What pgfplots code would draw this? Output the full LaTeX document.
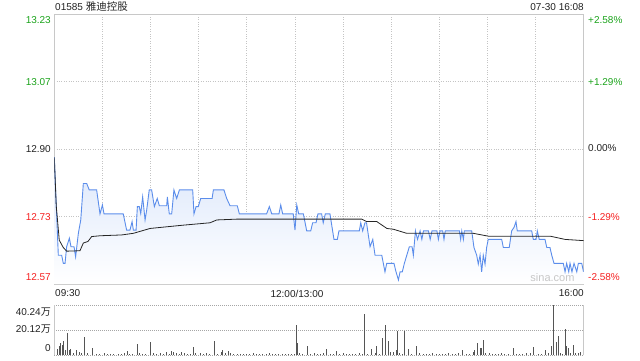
\documentclass[border=0pt]{standalone}
\usepackage{fontspec}
\setmainfont{Liberation Sans}
\newfontfamily\cjk{Noto Sans CJK SC}
\usepackage{pgfplots}
\usepackage{pgfplotstable}
\pgfplotsset{compat=1.18}
\definecolor{upg}{HTML}{1BA31B}
\definecolor{dnr}{HTML}{F52020}
\definecolor{pline}{HTML}{5B8DEB}
\definecolor{gridc}{HTML}{C4C4C4}
\definecolor{framec}{HTML}{C8C8C8}
\definecolor{volc}{HTML}{555555}
\definecolor{fillc}{HTML}{DCE7FB}
\definecolor{txt}{HTML}{222222}

\pgfplotstableread{
t p
0 12.880
2.5 12.638
4.6 12.638
5.6 12.618
6.7 12.618
7.7 12.659
9.4 12.680
10.4 12.659
12.3 12.659
13.3 12.634
15.0 12.692
16.5 12.725
18.1 12.815
20.2 12.815
21.8 12.799
26.4 12.799
28.5 12.740
30.0 12.762
31.0 12.740
43.0 12.740
45.1 12.700
47.2 12.700
48.5 12.721
49.3 12.700
51.0 12.700
51.8 12.758
53.0 12.758
53.9 12.741
55.1 12.782
56.6 12.725
57.6 12.749
59.2 12.799
60.7 12.799
62.4 12.758
64.2 12.778
65.5 12.760
70.1 12.760
70.5 12.782
71.7 12.740
73.2 12.740
74.6 12.799
76.3 12.778
78.0 12.799
86.3 12.799
87.1 12.740
88.4 12.758
89.8 12.758
91.3 12.778
98.4 12.778
99.2 12.799
105.8 12.799
107.5 12.778
109.6 12.760
114.1 12.760
115.4 12.740
132.4 12.740
134.1 12.758
135.6 12.740
140.1 12.740
141.2 12.762
142.4 12.740
149.0 12.740
150.1 12.700
151.2 12.762
152.4 12.740
155.3 12.740
157.4 12.698
159.9 12.698
161.1 12.718
163.2 12.718
164.4 12.740
166.7 12.740
167.7 12.718
169.0 12.740
171.9 12.740
174.4 12.677
176.5 12.677
177.5 12.698
190.2 12.698
191.1 12.718
192.3 12.698
193.7 12.718
194.7 12.718
196.9 12.659
198.6 12.677
200.0 12.638
204.2 12.638
206.2 12.597
207.3 12.618
211.8 12.618
213.1 12.597
214.6 12.577
215.6 12.597
217.0 12.597
218.3 12.618
221.4 12.659
223.1 12.659
223.9 12.638
225.2 12.698
226.5 12.677
228.1 12.698
229.2 12.677
230.2 12.698
233.3 12.698
234.4 12.677
235.5 12.698
238.6 12.698
239.5 12.677
240.5 12.698
242.2 12.698
243.0 12.677
243.8 12.698
252.6 12.698
253.4 12.677
254.1 12.698
255.1 12.677
255.7 12.698
260.3 12.698
261.7 12.657
263.4 12.638
264.4 12.616
265.5 12.638
266.5 12.597
267.5 12.638
268.6 12.616
269.6 12.657
270.6 12.677
279.0 12.677
280.0 12.657
283.7 12.657
285.2 12.698
286.7 12.707
287.9 12.721
288.7 12.698
297.7 12.698
298.7 12.677
300.4 12.677
301.2 12.698
302.4 12.677
306.0 12.677
307.1 12.657
309.1 12.657
310.2 12.638
311.6 12.618
317.4 12.618
318.5 12.597
319.5 12.618
320.8 12.597
321.6 12.618
322.8 12.597
324.1 12.618
325.8 12.597
326.8 12.618
328.9 12.618
330.0 12.597
}\pricedata

\pgfplotstableread{
t p
0 12.880
1.2 12.760
3.1 12.675
5.6 12.657
7.7 12.648
16.0 12.649
18.1 12.668
21.0 12.672
23.3 12.684
28.5 12.686
42.0 12.688
49.3 12.692
59.7 12.704
80.0 12.712
97.1 12.718
101.3 12.725
113.8 12.727
191.7 12.727
194.8 12.721
201.1 12.721
207.4 12.704
211.5 12.702
219.8 12.692
261.3 12.692
270.6 12.685
309.2 12.685
318.5 12.677
330.0 12.674
}\avgdata

\pgfplotstableread{
t v
1.9 4.6
2.9 7.2
4.0 9.9
4.8 8.0
5.9 11.3
6.7 4.0
8.4 18.0
9.2 4.0
10.2 4.8
11.9 1.9
14.0 4.0
15.6 2.7
17.1 1.9
18.5 14.2
20.6 1.9
23.5 5.4
26 1.2
28 0.8
31 1.6
33 0.8
35 1.2
37 0.8
40 1.2
42 0.8
44 1.6
45.8 3.2
47 1.2
49 0.8
51.8 8.9
53 2.0
55 1.2
57 0.8
60.1 10.7
62 1.6
64 0.8
65.9 1.9
68 1.2
70 2.4
72 1.2
73.2 3.2
74.2 2.4
76 2.0
78 0.8
79.4 2.4
81 1.6
83 1.2
85 0.8
86.7 6.2
88 1.6
90.9 1.9
93 1.2
95 2.0
97 0.8
99.8 11.5
102 1.2
104 2.4
105 4.0
107 1.6
108.5 3.2
110 2.0
112 1.2
114 0.8
116 1.2
118 0.8
120 1.2
122 0.8
124 1.6
126 0.8
128 1.2
130 0.8
132 1.2
134 1.6
136 0.8
138 1.2
140 0.8
142 1.2
144 0.8
146 1.2
148 0.8
150 1.2
151.2 24.2
151.8 10.0
153 1.6
155 0.8
157.8 7.2
160 1.2
162 2.0
164 0.8
166 1.2
168 1.6
169.9 4.6
172 0.8
174 1.2
176.1 3.2
178 0.8
180 1.6
182 1.2
184 0.8
186 1.2
188 0.8
190 1.6
192 1.2
193.6 33.0
195 0.8
197.9 4.6
200 1.6
201.1 7.2
203 1.2
204.4 13.4
206.4 24.2
208.3 11.3
209.8 2.7
211.4 2.7
213.1 4.0
213.7 19.3
215 1.6
217 0.8
218.1 19.3
220.8 4.6
223 1.2
226.0 7.2
228 1.6
230 0.8
232 1.2
234 0.8
236 1.6
238 1.2
240 0.8
242 1.2
244 0.8
246 1.6
248 1.2
250 0.8
252 1.6
254.7 4.0
257 1.2
259 0.8
261.3 2.7
262.3 4.0
263.8 9.4
265.5 5.9
266.5 5.4
267.5 12.0
269 1.6
271.3 1.9
273 1.2
275 0.8
277 1.2
279 1.6
281 0.8
283 1.2
286.2 5.4
288 0.8
290 1.2
292 0.8
294.6 1.9
297 1.6
299.1 6.2
302 1.2
304 0.8
306.2 4.0
308 1.6
310.2 7.2
311.2 40.24
313.3 10.7
314.3 15.3
315.8 1.9
317 1.2
318.7 20.7
319.5 7.2
320.8 5.9
322 2.0
323.7 8.0
325 1.6
326.8 1.9
328 2.4
330 34.0
}\voldata

\begin{document}
\begin{tikzpicture}[font=\fontsize{10}{12}\selectfont]
\path[use as bounding box] (0,0) rectangle (640pt,360pt);

\begin{axis}[at={(54.3pt,76pt)}, anchor=south west, scale only axis,
  width=529.2pt, height=270pt,
  xmin=0, xmax=330, ymin=12.567, ymax=13.233,
  xtick={30,60,...,300}, ytick={12.733,12.9,13.067},
  xticklabels={}, yticklabels={}, major tick length=0pt,
  grid=major, major grid style={gridc, dash pattern=on 0.8pt off 1.6pt, line width=0.6pt},
  axis line style={framec, line width=0.8pt}]
\addplot[draw=none, top color=fillc, bottom color=white] table[x=t,y=p] {\pricedata} \closedcycle;
\addplot[pline, line width=0.9pt, no marks] table[x=t,y=p] {\pricedata};
\addplot[black!85, line width=0.8pt, no marks] table[x=t,y=p] {\avgdata};
\end{axis}

\begin{axis}[at={(54.3pt,5pt)}, anchor=south west, scale only axis,
  width=529.2pt, height=50pt,
  xmin=0, xmax=330, ymin=0, ymax=40.24,
  xtick=\empty, ytick={0,20.12,40.24}, yticklabels={}, major tick length=0pt,
  ymajorgrids, major grid style={black!35, dash pattern=on 0.8pt off 1.2pt, line width=0.7pt},
  axis line style={draw=none}, clip=false]
\addplot[ycomb, volc, line width=0.9pt, no marks] table[x=t,y=v] {\voldata};
\draw[framec, line width=0.8pt] (rel axis cs:0,0) -- (rel axis cs:0,1);
\draw[framec, line width=0.8pt] (rel axis cs:1,0) -- (rel axis cs:1,1);
\end{axis}

\begin{scope}[every node/.style={inner sep=0pt}]
\node[anchor=west, txt] at (55pt,353pt) {01585 {\cjk\fontsize{10.5}{12}\selectfont 雅迪控股}};
\node[anchor=east, txt] at (584pt,353pt) {07-30 16:08};
\node[anchor=east, upg] at (51pt,339.5pt) {13.23};
\node[anchor=east, upg] at (51pt,278pt) {13.07};
\node[anchor=east, txt] at (51pt,211pt) {12.90};
\node[anchor=east, dnr] at (51pt,143.3pt) {12.73};
\node[anchor=east, dnr] at (51pt,83pt) {12.57};
\node[anchor=west, upg] at (588pt,339.5pt) {+2.58\%};
\node[anchor=west, upg] at (588pt,278pt) {+1.29\%};
\node[anchor=west, txt] at (588pt,211.5pt) {0.00\%};
\node[anchor=west, dnr] at (588pt,142.7pt) {-1.29\%};
\node[anchor=west, dnr] at (588pt,83pt) {-2.58\%};
\node[anchor=west, txt] at (55pt,66.5pt) {09:30};
\node[txt] at (297pt,66.5pt) {12:00/13:00};
\node[anchor=east, txt] at (584pt,66.5pt) {16:00};
\node[anchor=east, txt] at (51pt,48pt) {40.24{\cjk 万}};
\node[anchor=east, txt] at (51pt,30.5pt) {20.12{\cjk 万}};
\node[anchor=east, txt] at (51pt,12pt) {0};
\node[black!22, font=\fontsize{11}{13}\selectfont] at (552.5pt,82pt) {sina.com};
\end{scope}
\end{tikzpicture}
\end{document}
